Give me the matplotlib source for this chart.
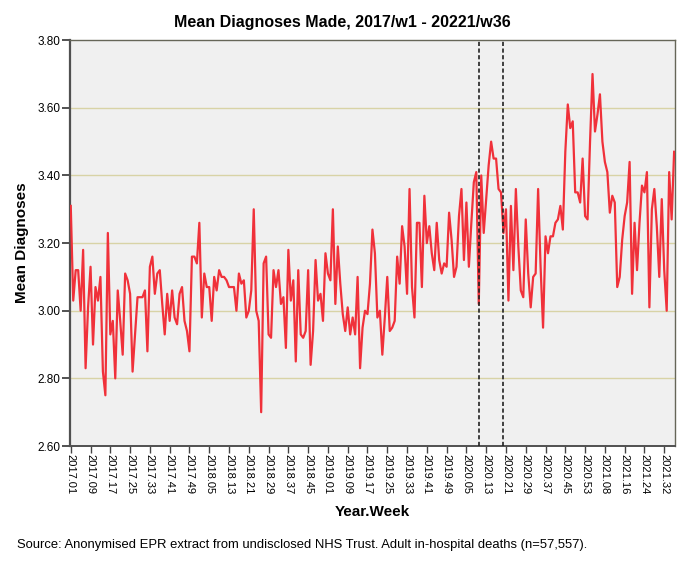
import matplotlib
matplotlib.use("Agg")
import matplotlib.pyplot as plt
import numpy as np

plt.rcParams['font.family'] = ['Liberation Sans', 'DejaVu Sans']

# weekly mean diagnoses
y2017 = [3.31, 3.03, 3.12, 3.12, 3.00, 3.18, 2.83, 3.01, 3.13, 2.90,
         3.07, 3.03, 3.10, 2.82, 2.75, 3.23, 2.93, 2.97, 2.80, 3.06,
         2.97, 2.87, 3.11, 3.09, 3.05, 2.82, 2.93, 3.04, 3.04, 3.04,
         3.06, 2.88, 3.13, 3.16, 3.05, 3.11, 3.12, 3.02, 2.93, 3.05,
         2.97, 3.06, 2.98, 2.96, 3.05, 3.07, 2.97, 2.94, 2.88, 3.16,
         3.16, 3.14]
y2018 = [3.26, 2.98, 3.11, 3.07, 3.07, 2.97, 3.10, 3.06, 3.12, 3.10,
         3.10, 3.09, 3.07, 3.07, 3.07, 3.00, 3.11, 3.08, 3.09, 2.98,
         3.00, 3.06, 3.30, 3.00, 2.97, 2.70, 3.14, 3.16, 2.93, 2.92,
         3.12, 3.07, 3.12, 3.02, 3.04, 2.89, 3.18, 3.03, 3.09, 2.85,
         3.12, 2.93, 2.92, 2.94, 3.12, 2.84, 2.94, 3.15, 3.03, 3.05,
         2.97, 3.17]
y2019 = [3.11, 3.09, 3.30, 3.02, 3.19, 3.08, 2.99, 2.94, 3.01, 2.93,
         2.98, 2.93, 3.10, 2.83, 2.95, 3.00, 2.99, 3.08, 3.24, 3.17,
         2.98, 3.00, 2.87, 2.98, 3.10, 2.94, 2.95, 2.97, 3.16, 3.08,
         3.25, 3.19, 3.05, 3.36, 3.07, 2.98, 3.26, 3.26, 3.07, 3.34,
         3.20, 3.25, 3.17, 3.12, 3.26, 3.15, 3.11, 3.14, 3.13, 3.29,
         3.21, 3.10]
y2020 = [3.13, 3.28, 3.36, 3.15, 3.32, 3.13, 3.26, 3.38, 3.41, 3.02,
         3.40, 3.23, 3.33, 3.43, 3.50, 3.45, 3.45, 3.36, 3.35, 3.23,
         3.30, 3.03, 3.31, 3.12, 3.36, 3.19, 3.06, 3.04, 3.27, 3.11,
         3.01, 3.10, 3.11, 3.36, 3.13, 2.95, 3.22, 3.17, 3.22, 3.22,
         3.26, 3.27, 3.31, 3.24, 3.47, 3.61, 3.54, 3.56, 3.35, 3.35,
         3.32, 3.45, 3.28]
y2021 = [3.27, 3.50, 3.70, 3.53, 3.58, 3.64, 3.50, 3.44, 3.41, 3.29,
         3.34, 3.32, 3.07, 3.10, 3.21, 3.28, 3.32, 3.44, 3.05, 3.26,
         3.12, 3.26, 3.37, 3.35, 3.41, 3.01, 3.30, 3.36, 3.25, 3.10,
         3.33, 3.12, 3.00, 3.41, 3.27, 3.47]

years = [2017, 2018, 2019, 2020, 2021]
series = [y2017, y2018, y2019, y2020, y2021]
# lockdown markers (year, week)
markers = [(2020, 10), (2020, 20)]

labels = []
values = []
for yr, vals in zip(years, series):
    for w, v in enumerate(vals, start=1):
        labels.append(f"{yr}.{w:02d}")
        values.append(v)
values = np.array(values)
x = np.arange(len(values))

fig = plt.figure(figsize=(6.84, 5.66), dpi=100)
ax = fig.add_axes([0.102, 0.212, 0.885, 0.717])
ax.set_facecolor('#F0F0F0')

for gy in [2.8, 3.0, 3.2, 3.4, 3.6]:
    ax.axhline(gy, color='#D8D3A6', lw=1.0, zorder=1)

ax.plot(x, values, color='#F0313A', lw=1.6, zorder=3)

for yr, wk in markers:
    ax.axvline(labels.index(f"{yr}.{wk:02d}"), color='#222222', lw=1.2,
               ls=(0, (2.5, 1.5)), zorder=4)

ax.set_xlim(-0.4, len(values) - 0.6)
ax.set_ylim(2.6, 3.8)
ax.set_yticks([2.6, 2.8, 3.0, 3.2, 3.4, 3.6, 3.8])
ax.set_yticklabels([f"{t:.2f}" for t in ax.get_yticks()], fontsize=8.5)
ax.set_xticks(x[::8])
ax.set_xticklabels(labels[::8], rotation=270, fontsize=8)
ax.tick_params(axis='y', direction='out', length=6, width=1.2, color='#333333', pad=1)
ax.tick_params(axis='x', direction='out', length=5, width=1, color='#444444', pad=0.5)

for s in ax.spines.values():
    s.set_color('#666658')
    s.set_linewidth(1.0)
ax.spines['left'].set_color('#505050')
ax.spines['left'].set_linewidth(1.6)
ax.spines['bottom'].set_color('#505050')
ax.spines['bottom'].set_linewidth(1.4)

ax.set_ylabel('Mean Diagnoses', fontsize=11, fontweight='bold', labelpad=6)
ax.set_xlabel('Year.Week', fontsize=11, fontweight='bold', labelpad=8)
fig.text(0.5, 0.953, 'Mean Diagnoses Made, 2017/w1 - 20221/w36', fontsize=11.5,
         fontweight='bold', ha='center', va='baseline')

fig.text(0.025, 0.032,
         'Source: Anonymised EPR extract from undisclosed NHS Trust. Adult in-hospital deaths (n=57,557).',
         fontsize=9.4)

fig.savefig('out.png', dpi=100)
